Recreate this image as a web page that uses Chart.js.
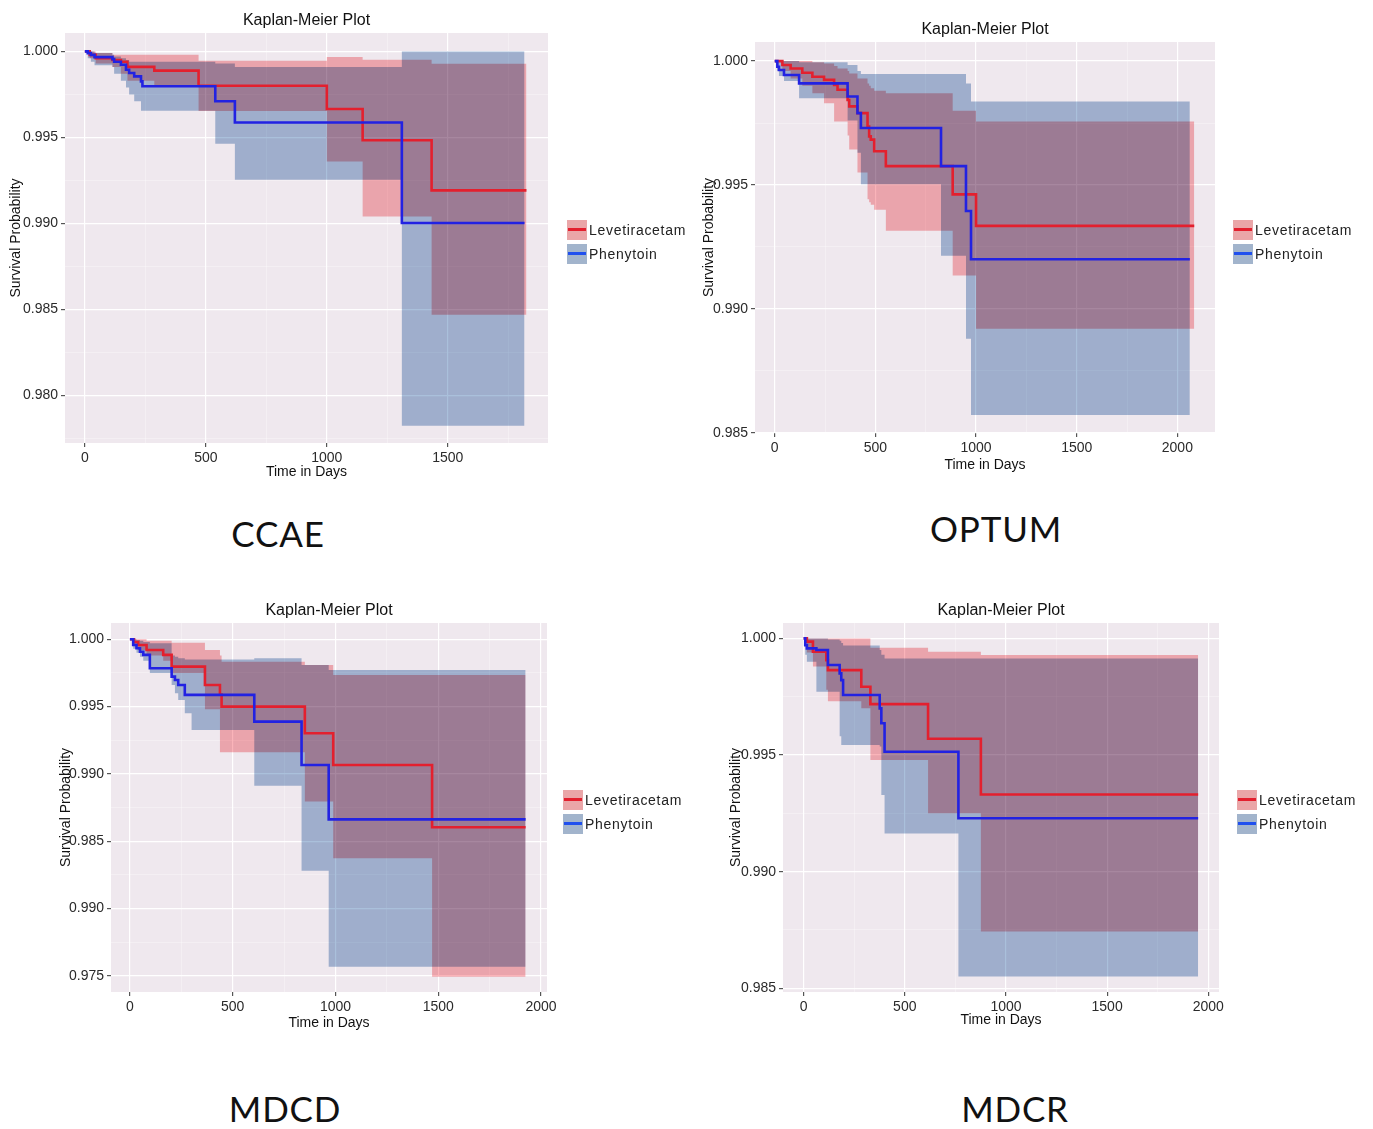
<!DOCTYPE html>
<html>
<head>
<meta charset="utf-8">
<script src="https://cdn.jsdelivr.net/npm/chart.js@4/dist/chart.umd.min.js"></script>
<style>
  html, body { margin: 0; padding: 0; background: #fff; }
  #page { position: relative; width: 1373px; height: 1129px; overflow: hidden; font-family: "Liberation Sans", Arial, sans-serif; }
  canvas { position: absolute; }
  .legend { position: absolute; font-size: 14px; letter-spacing: 0.7px; color: #222; }
  .legend .row { position: relative; height: 24px; line-height: 20px; padding-left: 22px; white-space: nowrap; }
  .legend .key { position: absolute; left: 0; top: 0; width: 20px; height: 20px; }
  .legend .key::after { content: ""; position: absolute; left: 1px; right: 1px; top: 8px; height: 3px; }
  .legend .lev { background: #eaa6a8; }
  .legend .lev::after { background: #e3202e; }
  .legend .phe { background: #a2b4cc; }
  .legend .phe::after { background: #2050ee; }
  .db { position: absolute; transform: translate(-50%, -50%); font-family: Lato, "Open Sans", sans-serif; font-size: 35px; letter-spacing: 0.8px; color: #111; }
</style>
</head>
<body>
<div id="page">
  <canvas id="ccae"></canvas>
  <canvas id="optum"></canvas>
  <canvas id="mdcd"></canvas>
  <canvas id="mdcr"></canvas>

  <div class="legend" style="left:567px;top:220px">
    <div class="row"><span class="key lev"></span>Levetiracetam</div>
    <div class="row"><span class="key phe"></span>Phenytoin</div>
  </div>
  <div class="legend" style="left:1233px;top:220px">
    <div class="row"><span class="key lev"></span>Levetiracetam</div>
    <div class="row"><span class="key phe"></span>Phenytoin</div>
  </div>
  <div class="legend" style="left:563px;top:790px">
    <div class="row"><span class="key lev"></span>Levetiracetam</div>
    <div class="row"><span class="key phe"></span>Phenytoin</div>
  </div>
  <div class="legend" style="left:1237px;top:790px">
    <div class="row"><span class="key lev"></span>Levetiracetam</div>
    <div class="row"><span class="key phe"></span>Phenytoin</div>
  </div>

  <div class="db" style="left:278px;top:533px">CCAE</div>
  <div class="db" style="left:996px;top:528px">OPTUM</div>
  <div class="db" style="left:285px;top:1108px">MDCD</div>
  <div class="db" style="left:1015px;top:1108px">MDCR</div>
</div>

<script>
// ---- CCAE ----
const ccaeLevDays  = [0, 20, 45, 114, 149, 176, 287, 470, 1000, 1148, 1433, 1825];
const ccaeLevSurv  = [1.0, 0.9998, 0.9996, 0.9995, 0.9994, 0.9991, 0.99888, 0.998, 0.99665, 0.99483, 0.99192, 0.99192];
const ccaeLevUpper = [1.0, 1.0, 0.9999, 0.9998, 0.9998, 0.9998, 0.9998, 0.99946, 0.99967, 0.99952, 0.99928, 0.99928];
const ccaeLevLower = [1.0, 0.9996, 0.9993, 0.9991, 0.9987, 0.9983, 0.998, 0.99653, 0.9936, 0.9904, 0.98469, 0.98469];

const ccaePheDays  = [0, 12, 25, 40, 114, 121, 149, 170, 183, 204, 232, 238, 539, 620, 1310, 1817];
const ccaePheSurv  = [1.0, 0.9999, 0.9998, 0.99967, 0.99955, 0.9994, 0.99922, 0.99893, 0.99874, 0.99855, 0.99826, 0.99797, 0.9971, 0.99587, 0.99002, 0.99002];
const ccaePheUpper = [1.0, 1.0, 1.0, 0.9999, 0.9998, 0.9997, 0.9996, 0.9995, 0.9994, 0.9994, 0.9994, 0.9994, 0.9993, 0.9991, 1.0, 1.0];
const ccaePheLower = [1.0, 0.9996, 0.9994, 0.9992, 0.9991, 0.9987, 0.9983, 0.9979, 0.9975, 0.9971, 0.99655, 0.99655, 0.99463, 0.99254, 0.97824, 0.97824];

// ---- OPTUM ----
const optumLevDays  = [0, 38, 79, 137, 187, 245, 295, 312, 362, 370, 411, 461, 469, 477, 494, 552, 884, 1000, 2084];
const optumLevSurv  = [1.0, 0.99984, 0.9997, 0.99953, 0.99937, 0.99924, 0.99904, 0.99884, 0.99843, 0.99817, 0.9979, 0.99736, 0.99696, 0.99683, 0.99636, 0.99576, 0.99462, 0.99335, 0.99335];
const optumLevUpper = [1.0, 1.0, 1.0, 1.0, 0.99995, 0.9999, 0.9998, 0.9997, 0.9996, 0.9995, 0.9993, 0.9991, 0.999, 0.9989, 0.9988, 0.9987, 0.998, 0.99756, 0.99756];
const optumLevLower = [1.0, 0.9996, 0.9993, 0.999, 0.9987, 0.9983, 0.99756, 0.99756, 0.997, 0.99643, 0.9955, 0.99442, 0.9943, 0.9942, 0.994, 0.99315, 0.99135, 0.9892, 0.9892];

const optumPheDays  = [0, 13, 21, 46, 121, 362, 411, 428, 826, 950, 975, 2062];
const optumPheSurv  = [1.0, 0.99977, 0.99964, 0.99944, 0.9991, 0.99857, 0.9979, 0.9973, 0.99576, 0.99395, 0.992, 0.992];
const optumPheUpper = [1.0, 1.0, 1.0, 1.0, 0.99995, 0.99984, 0.9996, 0.99948, 0.99948, 0.9991, 0.99837, 0.99837];
const optumPheLower = [1.0, 0.9996, 0.9994, 0.9992, 0.9985, 0.9976, 0.9963, 0.99503, 0.99214, 0.98879, 0.98572, 0.98572];

// ---- MDCD ----
const mdcdLevDays  = [0, 20, 40, 81, 162, 203, 365, 438, 446, 851, 989, 1470, 1925];
const mdcdLevSurv  = [1.0, 0.9998, 0.99958, 0.99921, 0.99884, 0.99797, 0.99661, 0.9959, 0.995, 0.99302, 0.99067, 0.98604, 0.98604];
const mdcdLevUpper = [1.0, 1.0, 1.0, 0.9999, 0.9999, 0.99975, 0.9992, 0.9988, 0.99834, 0.99809, 0.99735, 0.99735, 0.99735];
const mdcdLevLower = [1.0, 0.9995, 0.9992, 0.9988, 0.9984, 0.9975, 0.9948, 0.99161, 0.99161, 0.98795, 0.98374, 0.97495, 0.97495];

const mdcdPheDays  = [0, 16, 32, 49, 65, 97, 203, 219, 235, 267, 300, 605, 835, 967, 1925];
const mdcdPheSurv  = [1.0, 0.99958, 0.99933, 0.99908, 0.99884, 0.99785, 0.99723, 0.99698, 0.99661, 0.99587, 0.99587, 0.99389, 0.99067, 0.98663, 0.98663];
const mdcdPheUpper = [1.0, 1.0, 0.99995, 0.9999, 0.9998, 0.9997, 0.9988, 0.9987, 0.9986, 0.9985, 0.9985, 0.99859, 0.99809, 0.99772, 0.99772];
const mdcdPheLower = [1.0, 0.9993, 0.999, 0.9987, 0.9984, 0.9975, 0.9966, 0.996, 0.9955, 0.9945, 0.99327, 0.98913, 0.98282, 0.97569, 0.97569];

// ---- MDCR ----
const mdcrLevDays  = [0, 16, 46, 112, 120, 285, 330, 615, 876, 1950];
const mdcrLevSurv  = [1.0, 0.99986, 0.99943, 0.99907, 0.99864, 0.99793, 0.99718, 0.9957, 0.99331, 0.99331];
const mdcrLevUpper = [1.0, 1.0, 1.0, 1.0, 1.0, 1.0, 0.9996, 0.99943, 0.99929, 0.99929];
const mdcrLevLower = [1.0, 0.9994, 0.9988, 0.9978, 0.9973, 0.997, 0.99479, 0.9925, 0.98743, 0.98743];

const mdcrPheDays  = [0, 8, 16, 63, 120, 178, 186, 195, 376, 384, 400, 765, 1950];
const mdcrPheSurv  = [1.0, 0.99971, 0.99957, 0.9995, 0.99886, 0.9985, 0.99821, 0.99757, 0.997, 0.99636, 0.99514, 0.99229, 0.99229];
const mdcrPheUpper = [1.0, 1.0, 1.0, 1.0, 0.99995, 0.9999, 0.9998, 0.9997, 0.9995, 0.9993, 0.99914, 0.99914, 0.99914];
const mdcrPheLower = [1.0, 0.9993, 0.999, 0.99771, 0.99771, 0.9958, 0.99543, 0.99543, 0.99536, 0.99329, 0.99164, 0.9855, 0.9855];

// ---- tick values and labels ----
const ccaeXTicks = [0, 500, 1000, 1500];
const ccaeXLabels = ['0', '500', '1000', '1500'];
const xTicks2000 = [0, 500, 1000, 1500, 2000];
const xLabels2000 = ['0', '500', '1000', '1500', '2000'];
const ccaeYTicks = [0.98, 0.985, 0.99, 0.995, 1.0];
const ccaeYLabels = ['0.980', '0.985', '0.990', '0.995', '1.000'];
const optumYTicks = [0.985, 0.99, 0.995, 1.0];
const optumYLabels = ['0.985', '0.990', '0.995', '1.000'];
const mdcdYTicks = [0.975, 0.98, 0.985, 0.99, 0.995, 1.0];
const mdcdYLabels = ['0.975', '0.990', '0.985', '0.990', '0.995', '1.000'];
const mdcrYTicks = [0.985, 0.99, 0.995, 1.0];
const mdcrYLabels = ['0.985', '0.990', '0.995', '1.000'];

const FONT = '"Liberation Sans", Arial, sans-serif';
const RED = '#e3202e';
const BLUE = '#2222e2';
const RED_BAND = '#fab4b9';   // multiplied onto the panel
const BLUE_BAND = '#aac0db';
const TITLE_BLOCK = 31;
const RIGHT_PAD = 24;

const panels = [
  { id: 'ccae', left: 65, top: 33, right: 548, bottom: 443, yAxisW: 59, xAxisH: 38,
    xMin: -82, xMax: 1914, yMin: 0.97723, yMax: 1.00107,
    xTicks: ccaeXTicks, xLabels: ccaeXLabels, yTicks: ccaeYTicks, yLabels: ccaeYLabels,
    lev: [ccaeLevDays, ccaeLevSurv, ccaeLevUpper, ccaeLevLower],
    phe: [ccaePheDays, ccaePheSurv, ccaePheUpper, ccaePheLower] },
  { id: 'optum', left: 755, top: 42, right: 1215, bottom: 433, yAxisW: 56, xAxisH: 41,
    xMin: -98, xMax: 2187, yMin: 0.98499, yMax: 1.00077,
    xTicks: xTicks2000, xLabels: xLabels2000, yTicks: optumYTicks, yLabels: optumYLabels,
    lev: [optumLevDays, optumLevSurv, optumLevUpper, optumLevLower],
    phe: [optumPheDays, optumPheSurv, optumPheUpper, optumPheLower] },
  { id: 'mdcd', left: 111, top: 623, right: 547, bottom: 992, yAxisW: 55, xAxisH: 40,
    xMin: -92, xMax: 2029, yMin: 0.97381, yMax: 1.00121,
    xTicks: xTicks2000, xLabels: xLabels2000, yTicks: mdcdYTicks, yLabels: mdcdYLabels,
    lev: [mdcdLevDays, mdcdLevSurv, mdcdLevUpper, mdcdLevLower],
    phe: [mdcdPheDays, mdcdPheSurv, mdcdPheUpper, mdcdPheLower] },
  { id: 'mdcr', left: 783, top: 623, right: 1219, bottom: 992, yAxisW: 57, xAxisH: 37,
    xMin: -102, xMax: 2053, yMin: 0.98484, yMax: 1.00066,
    xTicks: xTicks2000, xLabels: xLabels2000, yTicks: mdcrYTicks, yLabels: mdcrYLabels,
    lev: [mdcrLevDays, mdcrLevSurv, mdcrLevUpper, mdcrLevLower],
    phe: [mdcrPheDays, mdcrPheSurv, mdcrPheUpper, mdcrPheLower] },
];

function toPoints(days, values) {
  return days.map((d, i) => ({ x: d, y: values[i] }));
}

// major ticks plus the ggplot-style minor lines half way between them
function gridTicks(majors, min, max) {
  const step = majors[1] - majors[0];
  const out = [];
  for (let k = -2; k <= majors.length * 2 + 1; k++) {
    const v = majors[0] + k * step / 2;
    if (v >= min - 1e-9 && v <= max + 1e-9) out.push({ value: v });
  }
  return out;
}

function majorIndex(value, majors) {
  const step = majors[1] - majors[0];
  return majors.findIndex((m) => Math.abs(m - value) < step * 1e-3);
}

function axis(majors, labels, min, max) {
  const isMajor = (c) => c.tick && majorIndex(c.tick.value, majors) >= 0;
  return {
    type: 'linear',
    min,
    max,
    afterBuildTicks: (s) => { s.ticks = gridTicks(majors, min, max); },
    ticks: {
      autoSkip: false,
      maxRotation: 0,
      padding: 3,
      color: '#2a2a2a',
      font: { family: FONT, size: 14 },
      callback: (v) => {
        const i = majorIndex(v, majors);
        return i >= 0 ? labels[i] : '';
      },
    },
    grid: {
      color: (c) => (isMajor(c) ? '#ffffff' : 'rgba(255,255,255,0.55)'),
      lineWidth: (c) => (isMajor(c) ? 1.2 : 0.6),
      tickLength: 4,
      tickColor: (c) => (isMajor(c) ? '#555' : 'rgba(0,0,0,0)'),
    },
    border: { display: false },
  };
}

const panelPlugin = {
  id: 'panelPlugin',
  beforeDraw(chart) {
    const { ctx, chartArea: a } = chart;
    ctx.save();
    ctx.fillStyle = '#efe8ee';
    ctx.fillRect(a.left, a.top, a.right - a.left, a.bottom - a.top);
    ctx.restore();
  },
  // confidence bands overlap like the original: multiply
  beforeDatasetsDraw(chart) {
    chart.ctx.globalCompositeOperation = 'multiply';
  },
  beforeDatasetDraw(chart, args) {
    chart.ctx.globalCompositeOperation = chart.data.datasets[args.index].band ? 'multiply' : 'source-over';
  },
  afterDatasetsDraw(chart) {
    chart.ctx.globalCompositeOperation = 'source-over';
  },
};

function lineSet(label, days, surv, color) {
  return {
    label, data: toPoints(days, surv), stepped: true, borderColor: color,
    borderWidth: 2.6, pointRadius: 0, fill: false, band: false,
  };
}

function bandSet(label, days, values, color, fill) {
  return {
    label, data: toPoints(days, values), stepped: true, borderColor: 'rgba(0,0,0,0)',
    borderWidth: 0, pointRadius: 0, backgroundColor: color, fill, band: true,
  };
}

panels.forEach((p) => {
  const canvas = document.getElementById(p.id);
  const w = p.yAxisW + (p.right - p.left) + RIGHT_PAD;
  const h = TITLE_BLOCK + (p.bottom - p.top) + p.xAxisH;
  canvas.width = w;
  canvas.height = h;
  canvas.style.width = w + 'px';
  canvas.style.height = h + 'px';
  canvas.style.left = (p.left - p.yAxisW) + 'px';
  canvas.style.top = (p.top - TITLE_BLOCK) + 'px';

  const xScale = axis(p.xTicks, p.xLabels, p.xMin, p.xMax);
  xScale.title = {
    display: true, text: 'Time in Days', color: '#111',
    font: { family: FONT, size: 14 }, padding: { top: 0, bottom: 0 },
  };
  xScale.afterFit = (s) => { s.height = p.xAxisH; };

  const yScale = axis(p.yTicks, p.yLabels, p.yMin, p.yMax);
  yScale.title = {
    display: true, text: 'Survival Probability', color: '#111',
    font: { family: FONT, size: 14 }, padding: { top: 2, bottom: 0 },
  };
  yScale.afterFit = (s) => { s.width = p.yAxisW; };

  const [ld, ls, lu, ll] = p.lev;
  const [pd, ps, pu, pl] = p.phe;

  new Chart(canvas, {
    type: 'line',
    data: {
      datasets: [
        lineSet('Phenytoin', pd, ps, BLUE),
        lineSet('Levetiracetam', ld, ls, RED),
        bandSet('Levetiracetam upper', ld, lu, RED_BAND, false),
        bandSet('Levetiracetam lower', ld, ll, RED_BAND, '-1'),
        bandSet('Phenytoin upper', pd, pu, BLUE_BAND, false),
        bandSet('Phenytoin lower', pd, pl, BLUE_BAND, '-1'),
      ],
    },
    options: {
      responsive: false,
      maintainAspectRatio: false,
      animation: false,
      layout: { padding: { left: 0, top: 0, bottom: 0, right: RIGHT_PAD } },
      scales: { x: xScale, y: yScale },
      plugins: {
        legend: { display: false },
        tooltip: { enabled: false },
        title: {
          display: true, text: 'Kaplan-Meier Plot', fullSize: false, color: '#111',
          font: { family: FONT, size: 16, weight: 'normal', lineHeight: 1.25 }, padding: { top: 9, bottom: 2 },
        },
      },
    },
    plugins: [panelPlugin],
  });
});
</script>
</body>
</html>
